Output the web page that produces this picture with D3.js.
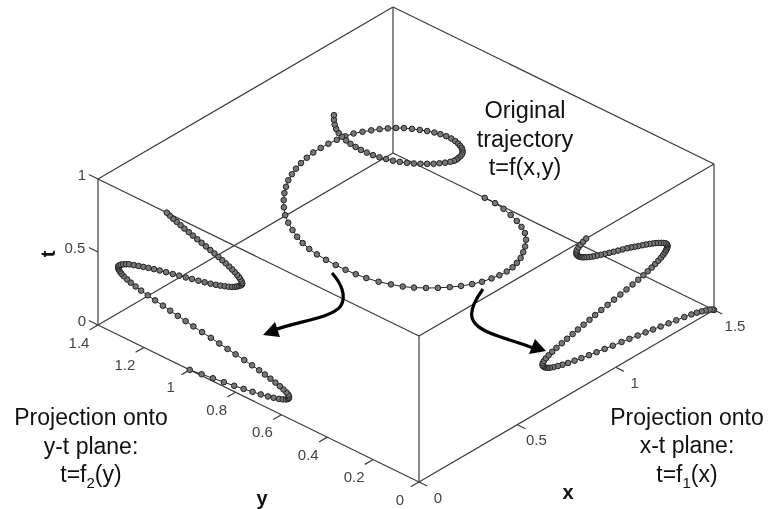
<!DOCTYPE html>
<html>
<head>
<meta charset="utf-8">
<script src="https://cdnjs.cloudflare.com/ajax/libs/d3/7.8.5/d3.min.js"></script>
<style>
  html, body { margin: 0; padding: 0; background: #fff; }
  text { font-family: "Liberation Sans", Arial, sans-serif; }
  svg { filter: blur(0.35px); }
</style>
</head>
<body>
<div id="chart"></div>
<script>
var width = 768;
var height = 509;

// trajectory samples
var tValues = [
  0, 0.01, 0.02, 0.03, 0.04, 0.05, 0.06, 0.07, 0.08, 0.09,
  0.10, 0.11, 0.12, 0.13, 0.14, 0.15, 0.16, 0.17, 0.18, 0.19,
  0.20, 0.21, 0.22, 0.23, 0.24, 0.25, 0.26, 0.27, 0.28, 0.29,
  0.30, 0.31, 0.32, 0.33, 0.34, 0.35, 0.36, 0.37, 0.38, 0.39,
  0.40, 0.41, 0.42, 0.43, 0.44, 0.45, 0.46, 0.47, 0.48, 0.49,
  0.50, 0.51, 0.52, 0.53, 0.54, 0.55, 0.56, 0.57, 0.58, 0.59,
  0.60, 0.61, 0.62, 0.63, 0.64, 0.65, 0.66, 0.67, 0.68, 0.69,
  0.70, 0.71, 0.72, 0.73, 0.74, 0.75, 0.76, 0.77, 0.78, 0.79,
  0.80, 0.81, 0.82, 0.83, 0.84, 0.85, 0.86, 0.87, 0.88, 0.89,
  0.90, 0.91, 0.92, 0.93, 0.94, 0.95, 0.96, 0.97, 0.98, 0.99, 1
];
var xValues = [
  1.500, 1.492, 1.478, 1.458, 1.437, 1.413, 1.385, 1.349, 1.308, 1.269,
  1.229, 1.190, 1.152, 1.112, 1.070, 1.030, 0.985, 0.944, 0.903, 0.864,
  0.826, 0.791, 0.758, 0.730, 0.706, 0.683, 0.665, 0.652, 0.642, 0.635,
  0.630, 0.628, 0.629, 0.635, 0.645, 0.659, 0.677, 0.699, 0.726, 0.753,
  0.781, 0.808, 0.837, 0.867, 0.896, 0.927, 0.959, 0.992, 1.024, 1.055,
  1.086, 1.115, 1.141, 1.163, 1.183, 1.201, 1.217, 1.231, 1.242, 1.250,
  1.256, 1.261, 1.264, 1.263, 1.260, 1.254, 1.244, 1.232, 1.219, 1.205,
  1.189, 1.172, 1.154, 1.135, 1.115, 1.097, 1.078, 1.058, 1.035, 1.012,
  0.989, 0.967, 0.945, 0.924, 0.904, 0.885, 0.868, 0.853, 0.839, 0.827,
  0.818, 0.810, 0.805, 0.801, 0.800, 0.801, 0.804, 0.811, 0.821, 0.835, 0.850
];
var yValues = [
  1.000, 0.948, 0.899, 0.851, 0.806, 0.765, 0.726, 0.690, 0.659, 0.634,
  0.611, 0.594, 0.580, 0.571, 0.567, 0.567, 0.570, 0.578, 0.591, 0.607,
  0.626, 0.648, 0.672, 0.697, 0.728, 0.762, 0.800, 0.835, 0.871, 0.908,
  0.946, 0.984, 1.018, 1.052, 1.085, 1.117, 1.151, 1.183, 1.212, 1.236,
  1.257, 1.273, 1.288, 1.298, 1.305, 1.310, 1.312, 1.312, 1.307, 1.300,
  1.290, 1.278, 1.264, 1.244, 1.223, 1.202, 1.180, 1.156, 1.131, 1.103,
  1.074, 1.046, 1.017, 0.990, 0.962, 0.935, 0.909, 0.886, 0.866, 0.847,
  0.830, 0.815, 0.803, 0.793, 0.785, 0.777, 0.772, 0.771, 0.774, 0.779,
  0.785, 0.794, 0.804, 0.815, 0.828, 0.843, 0.858, 0.875, 0.892, 0.910,
  0.929, 0.948, 0.967, 0.986, 1.004, 1.023, 1.040, 1.057, 1.072, 1.087, 1.100
];

var xTicks = [0, 0.5, 1, 1.5];
var yTicks = [0, 0.2, 0.4, 0.6, 0.8, 1, 1.2, 1.4];
var tTicks = [0, 0.5, 1];

var xMax = 1.5;
var yMax = 1.4;
var tMax = 1;

var topNote = ["Original", "trajectory", "t=f(x,y)"];
var leftNote = ["Projection onto", "y-t plane:"];
var rightNote = ["Projection onto", "x-t plane:"];

var svg = d3
  .select("#chart")
  .append("svg")
  .attr("width", width)
  .attr("height", height)
  .style("display", "block");

var xScale = d3.scaleLinear().domain([0, xMax]).range([0, 1]);
var yScale = d3.scaleLinear().domain([0, yMax]).range([0, 1]);
var tScale = d3.scaleLinear().domain([0, tMax]).range([0, 1]);

// box drawn as a fixed oblique view, origin at the front corner
function project(x, y, t) {
  return [
    419 + 295 * xScale(x) - 321 * yScale(y),
    482 - 172 * xScale(x) - 157 * yScale(y) - 146 * tScale(t)
  ];
}

var edges = [
  [[0, 0, 0], [xMax, 0, 0]],
  [[xMax, 0, 0], [xMax, yMax, 0]],
  [[xMax, yMax, 0], [0, yMax, 0]],
  [[0, yMax, 0], [0, 0, 0]],
  [[0, 0, tMax], [xMax, 0, tMax]],
  [[xMax, 0, tMax], [xMax, yMax, tMax]],
  [[xMax, yMax, tMax], [0, yMax, tMax]],
  [[0, yMax, tMax], [0, 0, tMax]],
  [[0, 0, 0], [0, 0, tMax]],
  [[xMax, 0, 0], [xMax, 0, tMax]],
  [[xMax, yMax, 0], [xMax, yMax, tMax]],
  [[0, yMax, 0], [0, yMax, tMax]]
];

function drawSegment(g, a, b, color) {
  var p = project(a[0], a[1], a[2]);
  var q = project(b[0], b[1], b[2]);
  g.append("line")
    .attr("x1", p[0])
    .attr("y1", p[1])
    .attr("x2", q[0])
    .attr("y2", q[1])
    .attr("stroke", color)
    .attr("stroke-width", 1.2);
}

var box = svg.append("g");
edges.forEach(function(e) {
  drawSegment(box, e[0], e[1], "#3c3c3c");
});

xTicks.forEach(function(v) {
  drawSegment(box, [v, 0, 0], [v, -0.036, 0], "#3c3c3c");
});
yTicks.forEach(function(v) {
  drawSegment(box, [0, v, 0], [-0.042, v, 0], "#3c3c3c");
});
tTicks.forEach(function(v) {
  drawSegment(box, [0, yMax, v], [0, yMax + 0.04, v], "#3c3c3c");
});

function tickLabel(text, p, dx, dy) {
  svg
    .append("text")
    .attr("x", p[0] + dx)
    .attr("y", p[1] + dy)
    .attr("text-anchor", "middle")
    .attr("dominant-baseline", "central")
    .attr("font-size", 15)
    .attr("fill", "#444")
    .text(text);
}

xTicks.forEach(function(v) {
  tickLabel(String(v), project(v, 0, 0), v === 1.5 ? 21 : 19, 15);
});
yTicks.forEach(function(v) {
  tickLabel(String(v), project(0, v, 0), -19, 17);
});
tTicks.forEach(function(v) {
  tickLabel(String(v), project(0, yMax, v), v === 0.5 ? -23 : -16, -5);
});

// the three curves share one sample list
var samples = tValues.map(function(t, i) {
  return { t: t, x: xValues[i], y: yValues[i] };
});

var views = [
  function(d) { return project(d.x, d.y, d.t); },
  function(d) { return project(0, d.y, d.t); },
  function(d) { return project(d.x, 0, d.t); }
];

views.forEach(function(view) {
  var g = svg.append("g");
  g.append("path")
    .attr("d", d3.line().x(function(d) { return view(d)[0]; }).y(function(d) { return view(d)[1]; })(samples))
    .attr("fill", "none")
    .attr("stroke", "#222")
    .attr("stroke-width", 1);
  g.selectAll("circle")
    .data(samples)
    .enter()
    .append("circle")
    .attr("cx", function(d) { return view(d)[0]; })
    .attr("cy", function(d) { return view(d)[1]; })
    .attr("r", 2.8)
    .attr("fill", "#777")
    .attr("stroke", "#222")
    .attr("stroke-width", 1);
});

// hand drawn arrows from the original figure
function arrow(d, head) {
  svg
    .append("path")
    .attr("d", d)
    .attr("fill", "none")
    .attr("stroke", "#000")
    .attr("stroke-width", 3.2);
  svg.append("path").attr("d", head).attr("fill", "#000");
}
arrow("M332,273C340,282 348,296 340,307C330,318 300,321 274,330", "M263,335L275,322L280,337Z");
arrow("M483,289C475,300 468,314 474,322C482,334 510,339 533,348", "M546,351L535,339L529,354Z");

function noteLines(lines, x, baselines, size) {
  lines.forEach(function(line, i) {
    svg
      .append("text")
      .attr("x", x)
      .attr("y", baselines[i])
      .attr("text-anchor", "middle")
      .attr("font-size", size)
      .attr("fill", "#111")
      .text(line);
  });
}

function formula(x, y, before, sub, after) {
  var text = svg
    .append("text")
    .attr("x", x)
    .attr("y", y)
    .attr("text-anchor", "middle")
    .attr("font-size", 23)
    .attr("fill", "#111");
  text.append("tspan").text(before);
  text.append("tspan").attr("font-size", 15).attr("dy", 6).text(sub);
  text.append("tspan").attr("dy", -6).text(after);
}

noteLines(topNote, 525, [118, 147, 175], 23.5);
noteLines(leftNote, 91, [425, 454], 23);
noteLines(rightNote, 687, [425, 453], 23);
formula(91, 482, "t=f", "2", "(y)");
formula(687, 482, "t=f", "1", "(x)");

function axisName(text, x, y, rotate) {
  svg
    .append("text")
    .attr("transform", "translate(" + x + "," + y + ") rotate(" + rotate + ")")
    .attr("text-anchor", "middle")
    .attr("dominant-baseline", "central")
    .attr("font-size", 20)
    .attr("font-weight", "bold")
    .attr("fill", "#111")
    .text(text);
}
axisName("x", 568, 492, 0);
axisName("y", 262, 498, 0);
axisName("t", 48, 254, -90);
</script>
</body>
</html>
